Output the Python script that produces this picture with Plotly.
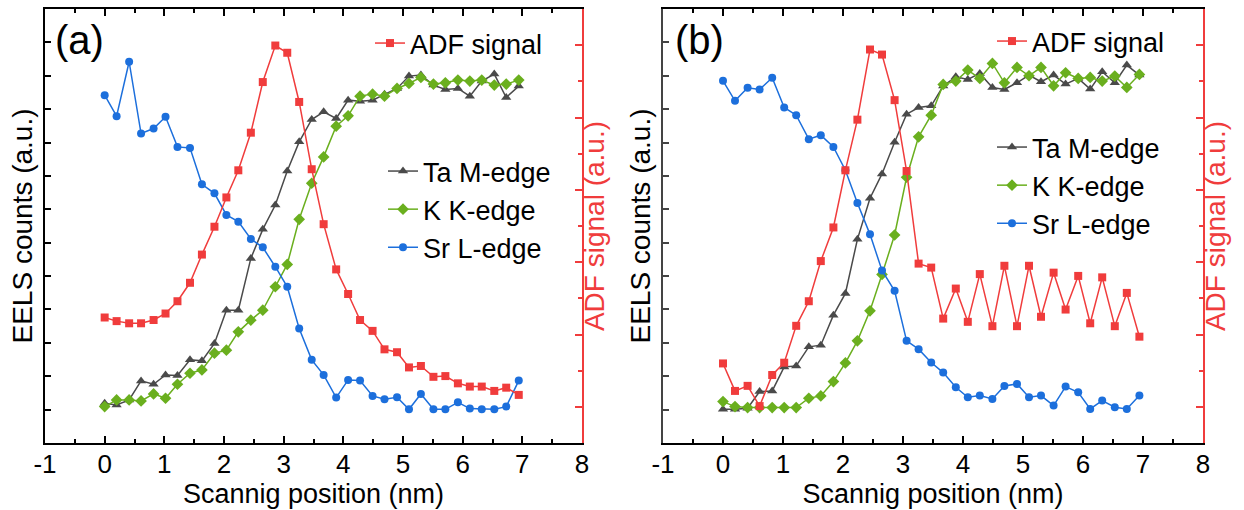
import plotly.graph_objects as go

# ---------------- data ----------------
x_pos = [0.0, 0.20, 0.41, 0.61, 0.82, 1.02, 1.22, 1.43, 1.63, 1.84, 2.04, 2.24,
         2.45, 2.65, 2.86, 3.06, 3.26, 3.47, 3.67, 3.88, 4.08, 4.28, 4.49, 4.69,
         4.90, 5.10, 5.30, 5.51, 5.71, 5.92, 6.12, 6.32, 6.53, 6.73, 6.94]

# panel (a)
a_ta = [1.19, 1.14, 1.29, 1.86, 1.76, 2.04, 2.02, 2.49, 2.46, 2.98, 3.98, 3.98,
        5.53, 6.40, 7.13, 8.15, 9.02, 9.69, 9.92, 9.72, 10.27, 10.24, 10.27, 10.45,
        10.62, 10.99, 11.02, 10.72, 10.59, 10.62, 10.39, 10.84, 11.05, 10.35, 10.69]
a_k = [1.09, 1.29, 1.29, 1.26, 1.47, 1.34, 1.76, 2.09, 2.19, 2.69, 2.78, 3.33,
       3.68, 3.98, 4.68, 5.35, 6.70, 7.78, 8.57, 9.49, 9.80, 10.39, 10.45, 10.39,
       10.62, 10.77, 10.95, 10.75, 10.79, 10.87, 10.84, 10.87, 10.72, 10.75, 10.87]
a_sr = [10.42, 9.79, 11.42, 9.27, 9.42, 9.77, 8.87, 8.84, 7.75, 7.48, 6.83, 6.63,
        6.11, 5.86, 5.28, 4.68, 3.43, 2.49, 2.04, 1.36, 1.89, 1.87, 1.41, 1.31,
        1.37, 1.01, 1.47, 1.01, 1.01, 1.22, 1.03, 1.01, 1.01, 1.09, 1.87]
a_adf = [3.47, 3.37, 3.31, 3.31, 3.40, 3.58, 3.92, 4.43, 5.21, 5.98, 6.79, 7.54,
         8.58, 9.98, 10.99, 10.79, 9.43, 7.57, 6.05, 4.80, 4.12, 3.40, 3.10, 2.59,
         2.51, 2.09, 2.13, 1.83, 1.85, 1.65, 1.56, 1.56, 1.44, 1.53, 1.33]

# panel (b)
b_ta = [1.01, 1.01, 1.04, 1.54, 1.56, 2.28, 2.31, 2.88, 2.93, 3.83, 4.48, 6.10,
        7.33, 8.06, 9.01, 9.85, 10.05, 10.10, 10.69, 10.97, 10.89, 11.07, 10.65, 10.59,
        10.79, 11.02, 10.82, 11.02, 10.75, 10.92, 10.60, 11.12, 10.79, 11.32, 11.02]
b_k = [1.24, 1.09, 1.06, 1.06, 1.06, 1.06, 1.06, 1.34, 1.41, 1.84, 2.40, 3.06,
       3.96, 5.05, 6.23, 7.96, 9.17, 9.82, 10.74, 10.84, 11.17, 10.92, 11.37, 10.79,
       11.25, 11.00, 11.25, 10.70, 11.09, 10.92, 10.95, 10.84, 10.99, 10.65, 11.04]
b_sr = [10.85, 10.25, 10.64, 10.59, 10.94, 10.05, 9.82, 9.10, 9.22, 8.87, 8.17, 7.19,
        6.25, 5.17, 4.56, 3.06, 2.81, 2.41, 2.11, 1.67, 1.37, 1.42, 1.32, 1.71,
        1.77, 1.37, 1.42, 1.12, 1.69, 1.52, 1.02, 1.27, 1.07, 1.02, 1.42]
b_adf = [2.20, 1.44, 1.58, 1.02, 1.88, 2.22, 3.24, 3.92, 5.03, 5.96, 7.54, 8.94,
         10.88, 10.74, 9.48, 7.52, 4.96, 4.85, 3.44, 4.27, 3.35, 4.67, 3.23, 4.90,
         3.23, 4.90, 3.49, 4.71, 3.69, 4.62, 3.31, 4.58, 3.23, 4.15, 2.94]

x_ticks = [-1, 0, 1, 2, 3, 4, 5, 6, 7, 8]

# ---------------- style ----------------
RED = "#F03C3C"
GRAY = "#4A4A4A"
GREEN = "#6AAF1E"
BLUE = "#1C6FDC"
FONT = "Liberation Sans, Arial, sans-serif"

W, H = 1244, 510
ML, MR, MT, MB = 45, 41, 9, 67
PW, PH = W - ML - MR, H - MT - MB


def px(xp):
    return (xp - ML) / PW


def py(yp):
    return 1 - (yp - MT) / PH


xa_dom = [0, px(582)]
xb_dom = [px(663), 1]

fig = go.Figure()


def add_panel(xax, yl, yr, ta, kk, sr, adf, leg_adf, leg_rest):
    fig.add_trace(go.Scatter(x=x_pos, y=ta, name="Ta M-edge", xaxis=xax, yaxis=yl,
                             marker=dict(symbol="triangle-up", size=9, color=GRAY),
                             line=dict(color=GRAY, width=1.5), mode="lines+markers",
                             legend=leg_rest))
    fig.add_trace(go.Scatter(x=x_pos, y=kk, name="K K-edge", xaxis=xax, yaxis=yl,
                             marker=dict(symbol="diamond", size=9, color=GREEN),
                             line=dict(color=GREEN, width=1.5), mode="lines+markers",
                             legend=leg_rest))
    fig.add_trace(go.Scatter(x=x_pos, y=sr, name="Sr L-edge", xaxis=xax, yaxis=yl,
                             marker=dict(symbol="circle", size=8, color=BLUE),
                             line=dict(color=BLUE, width=1.5), mode="lines+markers",
                             legend=leg_rest))
    fig.add_trace(go.Scatter(x=x_pos, y=adf, name="ADF signal", xaxis=xax, yaxis=yr,
                             marker=dict(symbol="square", size=8, color=RED),
                             line=dict(color=RED, width=1.5), mode="lines+markers",
                             legend=leg_adf))


add_panel("x", "y", "y2", a_ta, a_k, a_sr, a_adf, "legend", "legend2")
add_panel("x2", "y3", "y4", b_ta, b_k, b_sr, b_adf, "legend3", "legend4")


def xaxis(dom, anchor):
    return dict(domain=dom, anchor=anchor, range=[-1, 8], tickmode="array",
                tickvals=x_ticks, ticktext=[str(v) for v in x_ticks],
                ticks="inside", ticklen=7, tickwidth=1.5, tickcolor="black",
                showline=True, linecolor="black", linewidth=1.5, mirror="ticks",
                showgrid=False, zeroline=False, automargin=False,
                ticklabelstandoff=-3,
                tickfont=dict(size=26, color="black", family=FONT),
                title=dict(text="Scannig position (nm)", standoff=3,
                           font=dict(size=27, color="black", family=FONT)),
                minor=dict(dtick=0.5, tick0=-1, ticks="inside", ticklen=4,
                           tickwidth=1.5, tickcolor="black", showgrid=False))


def yleft(anchor, color):
    return dict(domain=[0, 1], anchor=anchor, range=[0, 13], tick0=0, dtick=1,
                ticks="inside", ticklen=6, tickwidth=1.5, tickcolor=color,
                showticklabels=False, showline=True, linecolor=color, linewidth=1.5,
                showgrid=False, zeroline=False, automargin=False,
                title=dict(text="EELS counts (a.u.)", standoff=2,
                           font=dict(size=28, color="black", family=FONT)))


def yright(over, anchor):
    return dict(overlaying=over, side="right", anchor=anchor, range=[0, 12],
                tick0=1, dtick=2, ticks="inside", ticklen=7, tickwidth=1.5,
                tickcolor=RED, showticklabels=False, showline=True, linecolor=RED,
                linewidth=1.5, showgrid=False, zeroline=False, automargin=False,
                minor=dict(dtick=1, tick0=0, ticks="inside", ticklen=4,
                           tickwidth=1.5, tickcolor=RED, showgrid=False),
                title=dict(text="ADF signal (a.u.)", standoff=2,
                           font=dict(size=28, color=RED, family=FONT)))


def leg(xp, yp):
    return dict(x=px(xp), y=py(yp), xanchor="left", yanchor="top",
                bgcolor="rgba(0,0,0,0)", borderwidth=0,
                font=dict(size=27, color="black", family=FONT),
                tracegroupgap=0, itemsizing="trace")


fig.update_layout(
    width=W, height=H,
    margin=dict(l=ML, r=MR, t=MT, b=MB, autoexpand=False),
    paper_bgcolor="white", plot_bgcolor="white",
    font=dict(family=FONT, color="black"),
    showlegend=True,
    xaxis=xaxis(xa_dom, "y"),
    yaxis=yleft("x", "black"),
    yaxis2=yright("y", "x"),
    xaxis2=xaxis(xb_dom, "y3"),
    yaxis3=yleft("x2", "#444444"),
    yaxis4=yright("y3", "x2"),
    legend=leg(370, 19),
    legend2=leg(383, 147),
    legend3=leg(992, 17),
    legend4=leg(992, 123),
    annotations=[
        dict(text="(a)", x=px(53), y=py(16), xref="paper", yref="paper",
             xanchor="left", yanchor="top", showarrow=False,
             font=dict(size=40, color="black", family=FONT)),
        dict(text="(b)", x=px(673), y=py(16), xref="paper", yref="paper",
             xanchor="left", yanchor="top", showarrow=False,
             font=dict(size=40, color="black", family=FONT)),
    ],
)

fig.write_html("out.html")
